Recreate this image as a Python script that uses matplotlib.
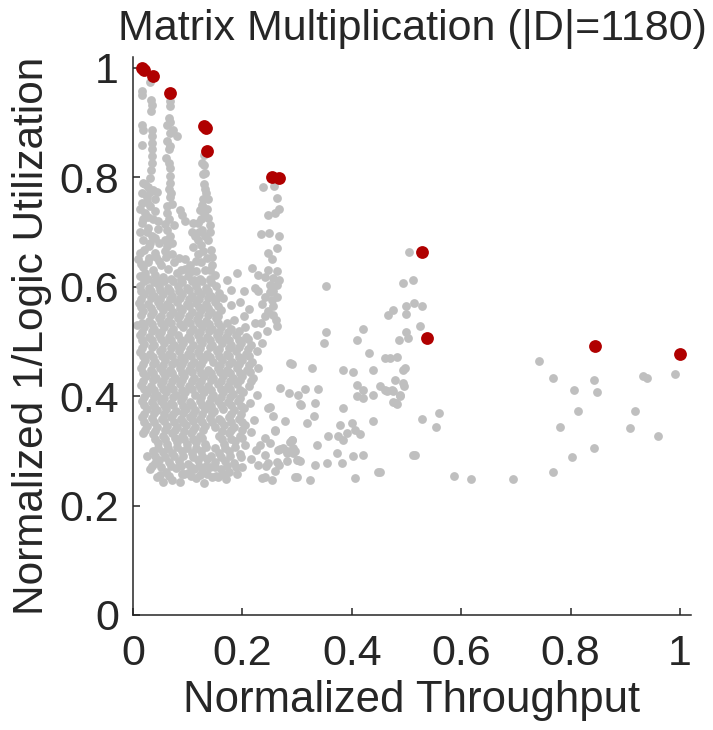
import numpy as np
import matplotlib
matplotlib.use("Agg")
import matplotlib.pyplot as plt

# ---------------- data (normalized throughput, normalized 1/logic utilization) ----------------
pareto_pts = [(0.016, 1.000), (0.020, 0.996), (0.036, 0.986), (0.068, 0.955),
              (0.130, 0.893), (0.134, 0.890), (0.136, 0.848), (0.254, 0.801),
              (0.266, 0.798), (0.528, 0.664), (0.537, 0.507), (0.845, 0.491),
              (1.000, 0.478)]

strip_a_pts = [(0.031, 0.975), (0.016, 0.957), (0.016, 0.951), (0.033, 0.942), (0.034, 0.933),
               (0.033, 0.921), (0.016, 0.896), (0.019, 0.887), (0.034, 0.887), (0.035, 0.875),
               (0.035, 0.863), (0.016, 0.860), (0.034, 0.851), (0.034, 0.839), (0.034, 0.826),
               (0.033, 0.814), (0.031, 0.799), (0.022, 0.787), (0.037, 0.777), (0.016, 0.771),
               (0.025, 0.765), (0.019, 0.790), (0.031, 0.774), (0.043, 0.774), (0.016, 0.753),
               (0.031, 0.747), (0.019, 0.723), (0.037, 0.723), (0.016, 0.717), (0.034, 0.692),
               (0.031, 0.680), (0.022, 0.735), (0.040, 0.738), (0.028, 0.708), (0.012, 0.700),
               (0.045, 0.705), (0.020, 0.668), (0.040, 0.662), (0.010, 0.650), (0.030, 0.652),
               (0.048, 0.648), (0.018, 0.636), (0.036, 0.630), (0.052, 0.640), (0.012, 0.620),
               (0.027, 0.615), (0.044, 0.612), (0.008, 0.530), (0.022, 0.625), (0.040, 0.622),
               (0.015, 0.642), (0.027, 0.645), (0.042, 0.655), (0.012, 0.662), (0.030, 0.675),
               (0.048, 0.680), (0.018, 0.685), (0.040, 0.690), (0.025, 0.700), (0.045, 0.720),
               (0.028, 0.728), (0.012, 0.742), (0.025, 0.755), (0.040, 0.760), (0.027, 0.782)]

strip_b_pts = [(0.068, 0.940), (0.068, 0.930), (0.065, 0.909), (0.068, 0.902), (0.062, 0.896),
               (0.074, 0.887), (0.068, 0.881), (0.080, 0.876), (0.062, 0.866), (0.068, 0.857),
               (0.065, 0.851), (0.060, 0.835), (0.065, 0.826), (0.068, 0.817), (0.067, 0.802),
               (0.068, 0.790), (0.065, 0.778), (0.068, 0.765), (0.070, 0.771), (0.062, 0.747),
               (0.062, 0.735), (0.065, 0.723), (0.062, 0.704), (0.068, 0.692), (0.062, 0.674),
               (0.075, 0.712), (0.058, 0.685), (0.072, 0.660), (0.060, 0.655), (0.075, 0.645),
               (0.064, 0.632), (0.080, 0.625), (0.055, 0.618), (0.070, 0.615), (0.058, 0.665),
               (0.072, 0.680), (0.058, 0.715), (0.072, 0.752)]

gap_bc_pts = [(0.086, 0.741), (0.089, 0.732), (0.095, 0.720), (0.110, 0.717), (0.107, 0.701),
              (0.113, 0.692), (0.110, 0.672), (0.118, 0.660), (0.095, 0.650), (0.105, 0.640),
              (0.088, 0.630), (0.115, 0.628), (0.084, 0.652), (0.088, 0.615), (0.100, 0.620),
              (0.112, 0.612), (0.095, 0.632), (0.108, 0.628)]

strip_c_pts = [(0.130, 0.840), (0.126, 0.826), (0.130, 0.823), (0.132, 0.808), (0.128, 0.807),
               (0.130, 0.787), (0.132, 0.778), (0.134, 0.771), (0.126, 0.750), (0.130, 0.735),
               (0.124, 0.723), (0.118, 0.717), (0.126, 0.704), (0.132, 0.692), (0.124, 0.677),
               (0.138, 0.760), (0.136, 0.742), (0.140, 0.712), (0.138, 0.685), (0.128, 0.665),
               (0.142, 0.668), (0.135, 0.652), (0.124, 0.645), (0.145, 0.640), (0.132, 0.630),
               (0.150, 0.622), (0.122, 0.615), (0.120, 0.700), (0.140, 0.700), (0.118, 0.685),
               (0.145, 0.655), (0.115, 0.648), (0.138, 0.725), (0.122, 0.740), (0.128, 0.760),
               (0.140, 0.630), (0.140, 0.615)]

strip_d_pts = [(0.238, 0.782), (0.258, 0.785), (0.263, 0.762), (0.266, 0.742), (0.260, 0.735),
               (0.247, 0.732), (0.234, 0.697), (0.249, 0.699), (0.266, 0.692), (0.263, 0.671),
               (0.247, 0.661), (0.254, 0.650), (0.218, 0.634), (0.229, 0.622), (0.247, 0.631),
               (0.263, 0.628), (0.256, 0.616), (0.266, 0.613), (0.241, 0.618), (0.250, 0.604),
               (0.263, 0.604), (0.223, 0.598), (0.229, 0.592), (0.256, 0.592), (0.241, 0.582),
               (0.254, 0.576), (0.263, 0.582), (0.256, 0.564), (0.247, 0.555), (0.241, 0.546),
               (0.256, 0.549), (0.234, 0.534), (0.263, 0.528), (0.180, 0.595), (0.202, 0.592),
               (0.165, 0.580), (0.179, 0.567), (0.196, 0.573), (0.153, 0.549), (0.202, 0.546),
               (0.223, 0.534), (0.172, 0.612), (0.190, 0.625), (0.212, 0.560), (0.245, 0.520),
               (0.250, 0.590), (0.236, 0.568), (0.262, 0.540)]

mass_pts = [
    (0.031, 0.266), (0.043, 0.253), (0.055, 0.244), (0.071, 0.247), (0.086, 0.244), (0.101, 0.260),
    (0.116, 0.250), (0.129, 0.241), (0.144, 0.253), (0.156, 0.253), (0.170, 0.249), (0.190, 0.258),
    (0.060, 0.262), (0.078, 0.268), (0.094, 0.258), (0.112, 0.266), (0.127, 0.262), (0.140, 0.270),
    (0.160, 0.266), (0.176, 0.262), (0.200, 0.270), (0.040, 0.278),
    (0.025, 0.290), (0.048, 0.284), (0.066, 0.280), (0.084, 0.282), (0.100, 0.276), (0.118, 0.283),
    (0.135, 0.285), (0.150, 0.280), (0.168, 0.282), (0.185, 0.278), (0.215, 0.285),
    (0.036, 0.300), (0.055, 0.298), (0.072, 0.296), (0.090, 0.300), (0.108, 0.296),
    (0.124, 0.300), (0.158, 0.296), (0.176, 0.300), (0.195, 0.294), (0.225, 0.302),
    (0.045, 0.314), (0.063, 0.312), (0.080, 0.316), (0.098, 0.312), (0.115, 0.316),
    (0.132, 0.312), (0.166, 0.312), (0.186, 0.318), (0.205, 0.310),
    (0.018, 0.332), (0.036, 0.330), (0.054, 0.328), (0.071, 0.332), (0.089, 0.328), (0.106, 0.332),
    (0.123, 0.328), (0.158, 0.328), (0.175, 0.333), (0.196, 0.328), (0.215, 0.335),
    (0.026, 0.346), (0.044, 0.344), (0.062, 0.346), (0.080, 0.343), (0.097, 0.347), (0.114, 0.343),
    (0.132, 0.346), (0.149, 0.343), (0.166, 0.347), (0.185, 0.344), (0.205, 0.348),
    (0.017, 0.362), (0.035, 0.360), (0.053, 0.358), (0.070, 0.362), (0.088, 0.358), (0.105, 0.362),
    (0.122, 0.358), (0.140, 0.361), (0.157, 0.358), (0.175, 0.362), (0.194, 0.359), (0.222, 0.356),
    (0.026, 0.376), (0.044, 0.374), (0.061, 0.377), (0.079, 0.373), (0.096, 0.377), (0.113, 0.374),
    (0.131, 0.377), (0.148, 0.373), (0.165, 0.377), (0.184, 0.374), (0.203, 0.378),
    (0.016, 0.392), (0.034, 0.389), (0.052, 0.392), (0.069, 0.388), (0.087, 0.392), (0.104, 0.389),
    (0.122, 0.392), (0.139, 0.388), (0.156, 0.392), (0.174, 0.389), (0.192, 0.392), (0.214, 0.388),
    (0.025, 0.406), (0.043, 0.403), (0.060, 0.407), (0.078, 0.403), (0.095, 0.407), (0.113, 0.403),
    (0.130, 0.407), (0.147, 0.403), (0.165, 0.407), (0.183, 0.404), (0.201, 0.407), (0.226, 0.402),
    (0.015, 0.421), (0.033, 0.418), (0.051, 0.422), (0.068, 0.418), (0.086, 0.422), (0.103, 0.418),
    (0.121, 0.421), (0.138, 0.418), (0.156, 0.422), (0.173, 0.418), (0.191, 0.422), (0.212, 0.418),
    (0.024, 0.436), (0.042, 0.433), (0.059, 0.437), (0.077, 0.433), (0.094, 0.437), (0.112, 0.433),
    (0.129, 0.437), (0.147, 0.433), (0.164, 0.437), (0.182, 0.433), (0.200, 0.437), (0.220, 0.434),
    (0.014, 0.451), (0.032, 0.448), (0.050, 0.452), (0.067, 0.448), (0.085, 0.452), (0.102, 0.448),
    (0.120, 0.451), (0.137, 0.448), (0.155, 0.452), (0.172, 0.448), (0.190, 0.452), (0.208, 0.448),
    (0.228, 0.452),
    (0.022, 0.466), (0.040, 0.463), (0.058, 0.467), (0.076, 0.463), (0.093, 0.467), (0.111, 0.463),
    (0.128, 0.467), (0.146, 0.463), (0.163, 0.467), (0.181, 0.463), (0.199, 0.467), (0.217, 0.463),
    (0.013, 0.481), (0.031, 0.478), (0.049, 0.482), (0.066, 0.478), (0.084, 0.482), (0.101, 0.478),
    (0.119, 0.481), (0.136, 0.478), (0.154, 0.482), (0.171, 0.478), (0.189, 0.482), (0.207, 0.478),
    (0.226, 0.482),
    (0.021, 0.496), (0.039, 0.493), (0.057, 0.497), (0.075, 0.493), (0.092, 0.497), (0.110, 0.493),
    (0.127, 0.497), (0.145, 0.493), (0.162, 0.497), (0.180, 0.493), (0.198, 0.497), (0.216, 0.493),
    (0.235, 0.497),
    (0.012, 0.511), (0.030, 0.508), (0.048, 0.512), (0.065, 0.508), (0.083, 0.512), (0.100, 0.508),
    (0.118, 0.511), (0.135, 0.508), (0.153, 0.512), (0.170, 0.508), (0.188, 0.512), (0.206, 0.508),
    (0.226, 0.512),
    (0.020, 0.526), (0.038, 0.523), (0.056, 0.527), (0.074, 0.523), (0.091, 0.527), (0.109, 0.523),
    (0.126, 0.527), (0.144, 0.523), (0.161, 0.527), (0.180, 0.522), (0.205, 0.526),
    (0.029, 0.538), (0.047, 0.542), (0.064, 0.538), (0.082, 0.542), (0.099, 0.538),
    (0.117, 0.541), (0.134, 0.538), (0.152, 0.542), (0.185, 0.540),
    (0.019, 0.556), (0.037, 0.553), (0.055, 0.557), (0.073, 0.553), (0.090, 0.557), (0.108, 0.553),
    (0.125, 0.557), (0.143, 0.553), (0.160, 0.558),
    (0.011, 0.571), (0.028, 0.568), (0.046, 0.572), (0.063, 0.568), (0.081, 0.572), (0.098, 0.568),
    (0.116, 0.571), (0.133, 0.568), (0.150, 0.572),
    (0.020, 0.586), (0.038, 0.583), (0.055, 0.587), (0.072, 0.583), (0.090, 0.587), (0.107, 0.583),
    (0.124, 0.587), (0.142, 0.583), (0.158, 0.588),
    (0.012, 0.601), (0.029, 0.598), (0.047, 0.602), (0.064, 0.598), (0.082, 0.602), (0.099, 0.598),
    (0.116, 0.601), (0.134, 0.598), (0.151, 0.602),
]

mass_fill_pts = [
    (0.050, 0.256), (0.066, 0.255), (0.090, 0.257), (0.106, 0.254), (0.122, 0.256), (0.136, 0.257),
    (0.152, 0.255), (0.165, 0.258),
    (0.034, 0.272), (0.052, 0.271), (0.070, 0.273), (0.087, 0.272), (0.106, 0.271), (0.120, 0.273),
    (0.133, 0.272), (0.150, 0.271), (0.172, 0.273), (0.188, 0.270),
    (0.040, 0.290), (0.058, 0.289), (0.075, 0.291), (0.092, 0.290), (0.110, 0.289), (0.126, 0.291),
    (0.143, 0.290), (0.160, 0.289), (0.177, 0.291), (0.197, 0.288),
    (0.046, 0.306), (0.064, 0.305), (0.081, 0.307), (0.099, 0.306), (0.116, 0.305),
    (0.134, 0.307), (0.150, 0.305), (0.168, 0.306), (0.186, 0.307),
    (0.040, 0.322), (0.058, 0.321), (0.076, 0.323), (0.093, 0.322), (0.110, 0.321), (0.127, 0.323),
    (0.162, 0.322), (0.180, 0.321), (0.200, 0.323),
    (0.022, 0.338), (0.040, 0.337), (0.058, 0.339), (0.076, 0.338), (0.093, 0.337), (0.110, 0.339),
    (0.128, 0.338), (0.162, 0.337), (0.180, 0.339), (0.200, 0.338),
    (0.021, 0.353), (0.039, 0.352), (0.057, 0.354), (0.075, 0.353), (0.092, 0.352), (0.109, 0.354),
    (0.127, 0.353), (0.144, 0.352), (0.161, 0.354), (0.180, 0.353), (0.199, 0.352),
    (0.021, 0.368), (0.039, 0.369), (0.057, 0.367), (0.074, 0.368), (0.092, 0.369), (0.109, 0.367),
    (0.126, 0.368), (0.144, 0.369), (0.179, 0.368), (0.198, 0.367),
    (0.021, 0.383), (0.039, 0.382), (0.056, 0.384), (0.074, 0.383), (0.091, 0.382), (0.108, 0.384),
    (0.126, 0.383), (0.143, 0.382), (0.160, 0.384), (0.179, 0.383), (0.197, 0.382),
    (0.020, 0.398), (0.038, 0.399), (0.056, 0.397), (0.073, 0.398), (0.091, 0.399),
    (0.125, 0.398), (0.143, 0.397), (0.160, 0.399), (0.178, 0.398), (0.196, 0.397),
    (0.020, 0.413), (0.038, 0.412), (0.055, 0.414), (0.073, 0.413), (0.090, 0.412), (0.108, 0.414),
    (0.125, 0.413), (0.142, 0.412), (0.160, 0.414), (0.178, 0.413), (0.196, 0.412),
    (0.019, 0.428), (0.037, 0.429), (0.055, 0.427), (0.072, 0.428), (0.090, 0.429), (0.107, 0.427),
    (0.125, 0.428), (0.142, 0.429), (0.160, 0.427), (0.177, 0.428), (0.195, 0.429), (0.215, 0.427),
    (0.019, 0.443), (0.037, 0.442), (0.054, 0.444), (0.072, 0.443), (0.089, 0.442), (0.107, 0.444),
    (0.124, 0.443), (0.142, 0.442), (0.159, 0.444), (0.177, 0.443), (0.195, 0.442), (0.214, 0.444),
    (0.018, 0.458), (0.036, 0.459), (0.054, 0.457), (0.071, 0.458), (0.089, 0.459), (0.106, 0.457),
    (0.124, 0.458), (0.159, 0.457), (0.176, 0.458), (0.194, 0.459), (0.212, 0.457),
    (0.018, 0.473), (0.036, 0.472), (0.053, 0.474), (0.071, 0.473), (0.088, 0.472), (0.106, 0.474),
    (0.123, 0.473), (0.141, 0.472), (0.158, 0.474), (0.176, 0.473), (0.194, 0.472), (0.212, 0.474),
    (0.017, 0.488), (0.035, 0.489), (0.053, 0.487), (0.070, 0.488), (0.088, 0.489), (0.105, 0.487),
    (0.123, 0.488), (0.140, 0.489), (0.158, 0.487), (0.175, 0.488), (0.193, 0.489), (0.211, 0.487),
    (0.017, 0.503), (0.035, 0.502), (0.052, 0.504), (0.070, 0.503), (0.087, 0.502), (0.105, 0.504),
    (0.122, 0.503), (0.140, 0.502), (0.157, 0.504), (0.175, 0.503), (0.193, 0.502), (0.211, 0.504),
    (0.016, 0.518), (0.034, 0.519), (0.052, 0.517), (0.069, 0.518), (0.104, 0.517),
    (0.122, 0.518), (0.139, 0.519), (0.157, 0.517), (0.174, 0.518), (0.193, 0.519),
    (0.016, 0.533), (0.034, 0.532), (0.051, 0.534), (0.069, 0.533), (0.086, 0.532), (0.104, 0.534),
    (0.121, 0.533), (0.139, 0.532), (0.156, 0.534), (0.172, 0.533),
    (0.015, 0.548), (0.033, 0.549), (0.051, 0.547), (0.068, 0.548), (0.086, 0.549), (0.103, 0.547),
    (0.121, 0.548), (0.138, 0.549), (0.156, 0.547),
    (0.015, 0.563), (0.033, 0.562), (0.050, 0.564), (0.068, 0.563), (0.085, 0.562), (0.103, 0.564),
    (0.120, 0.563), (0.138, 0.562), (0.155, 0.564),
    (0.014, 0.578), (0.032, 0.579), (0.050, 0.577), (0.067, 0.578), (0.085, 0.579), (0.102, 0.577),
    (0.120, 0.578), (0.137, 0.579), (0.152, 0.577),
    (0.014, 0.593), (0.032, 0.592), (0.049, 0.594), (0.067, 0.593), (0.084, 0.592), (0.102, 0.594),
    (0.119, 0.593), (0.137, 0.592),
    (0.020, 0.610), (0.038, 0.609), (0.056, 0.611), (0.073, 0.610), (0.090, 0.609), (0.108, 0.611),
    (0.126, 0.610), (0.142, 0.609),
]

scatter_pts = [
    (0.353, 0.602), (0.353, 0.517), (0.349, 0.497), (0.420, 0.523), (0.410, 0.503), (0.432, 0.479),
    (0.287, 0.461), (0.327, 0.452), (0.384, 0.447), (0.403, 0.444), (0.438, 0.447), (0.269, 0.415),
    (0.286, 0.406), (0.302, 0.403), (0.314, 0.413), (0.339, 0.413), (0.409, 0.421), (0.421, 0.412),
    (0.409, 0.400), (0.421, 0.397), (0.439, 0.403), (0.452, 0.418), (0.461, 0.412), (0.473, 0.412),
    (0.488, 0.400), (0.481, 0.388), (0.247, 0.378), (0.256, 0.363), (0.278, 0.354), (0.308, 0.384),
    (0.333, 0.388), (0.318, 0.351), (0.330, 0.363), (0.384, 0.378), (0.378, 0.348), (0.400, 0.351),
    (0.406, 0.339), (0.375, 0.327), (0.391, 0.333), (0.415, 0.330), (0.357, 0.328), (0.384, 0.320),
    (0.439, 0.354), (0.260, 0.339), (0.232, 0.311), (0.250, 0.314), (0.287, 0.317), (0.269, 0.303),
    (0.292, 0.305), (0.305, 0.281), (0.281, 0.281), (0.266, 0.275), (0.241, 0.293), (0.244, 0.272),
    (0.260, 0.263), (0.333, 0.275), (0.336, 0.311), (0.354, 0.278), (0.299, 0.253), (0.324, 0.247),
    (0.235, 0.250), (0.254, 0.247), (0.372, 0.296), (0.382, 0.278), (0.403, 0.290), (0.421, 0.293),
    (0.406, 0.250), (0.448, 0.261), (0.512, 0.293), (0.290, 0.459), (0.305, 0.386), (0.290, 0.320),
    (0.275, 0.305), (0.281, 0.296), (0.293, 0.296), (0.263, 0.279), (0.299, 0.284),
    (0.250, 0.381), (0.260, 0.337), (0.241, 0.324), (0.290, 0.319), (0.265, 0.302), (0.281, 0.300),
    (0.296, 0.299), (0.302, 0.284), (0.247, 0.278), (0.229, 0.274), (0.241, 0.252), (0.296, 0.253),
    (0.505, 0.664), (0.493, 0.606), (0.512, 0.612), (0.476, 0.558), (0.466, 0.549), (0.499, 0.564),
    (0.514, 0.571), (0.528, 0.564), (0.499, 0.551), (0.525, 0.529), (0.499, 0.517), (0.503, 0.506),
    (0.486, 0.503), (0.461, 0.469), (0.470, 0.469), (0.483, 0.472), (0.494, 0.448), (0.497, 0.452),
    (0.479, 0.430), (0.493, 0.424), (0.495, 0.418), (0.464, 0.409), (0.476, 0.409), (0.488, 0.403),
    (0.476, 0.389), (0.483, 0.386), (0.528, 0.359), (0.560, 0.369), (0.554, 0.344), (0.515, 0.292),
    (0.452, 0.261), (0.586, 0.254), (0.617, 0.248), (0.694, 0.248), (0.767, 0.261), (0.742, 0.465),
    (0.767, 0.433), (0.806, 0.411), (0.813, 0.372), (0.781, 0.344), (0.803, 0.289), (0.842, 0.305),
    (0.842, 0.430), (0.848, 0.408), (0.933, 0.437), (0.940, 0.433), (0.918, 0.372), (0.909, 0.341),
    (0.960, 0.328), (0.991, 0.440),
]

title_text = "Matrix Multiplication (|D|=1180)"
x_label = "Normalized Throughput"
y_label = "Normalized 1/Logic Utilization"
x_ticks = [0, 0.2, 0.4, 0.6, 0.8, 1]
x_tick_labels = ["0", "0.2", "0.4", "0.6", "0.8", "1"]
y_ticks = [0, 0.2, 0.4, 0.6, 0.8, 1]
y_tick_labels = ["0", "0.2", "0.4", "0.6", "0.8", "1"]

# ---------------- figure ----------------
plt.rcParams["font.family"] = ["Liberation Sans", "DejaVu Sans"]
txt = "#262626"

fig = plt.figure(figsize=(7.13, 7.30), dpi=100)
ax = fig.add_axes([133 / 713, 115 / 730, 558 / 713, 558 / 730])

gray = np.array(strip_a_pts + strip_b_pts + gap_bc_pts + strip_c_pts + strip_d_pts
                + mass_pts + mass_fill_pts + scatter_pts)
red = np.array(pareto_pts)
ax.scatter(gray[:, 0], gray[:, 1], s=40, c="#bfbfbf", linewidths=0, zorder=2)
ax.scatter(red[:, 0], red[:, 1], s=85, c="#b00000", linewidths=0, zorder=3)

ax.set_xlim(0, 1.02)
ax.set_ylim(0, 1.02)
ax.set_xticks(x_ticks)
ax.set_xticklabels(x_tick_labels)
ax.set_yticks(y_ticks)
ax.set_yticklabels(y_tick_labels)
for s in ["top", "right"]:
    ax.spines[s].set_visible(False)
for s in ["left", "bottom"]:
    ax.spines[s].set_color(txt)
    ax.spines[s].set_linewidth(1.1)
ax.tick_params(direction="in", length=5, width=1.1, colors=txt, labelsize=31)
ax.tick_params(axis="x", pad=14)
ax.tick_params(axis="y", pad=10)
ax.set_xlabel(x_label, fontsize=31.5, color=txt, labelpad=4)
ax.set_ylabel(y_label, fontsize=30.5, color=txt, labelpad=5)
fig.text(412 / 713, 1 - 40 / 730, title_text, fontsize=31, color=txt,
         ha="center", va="baseline")

fig.savefig("out.png", dpi=100)
